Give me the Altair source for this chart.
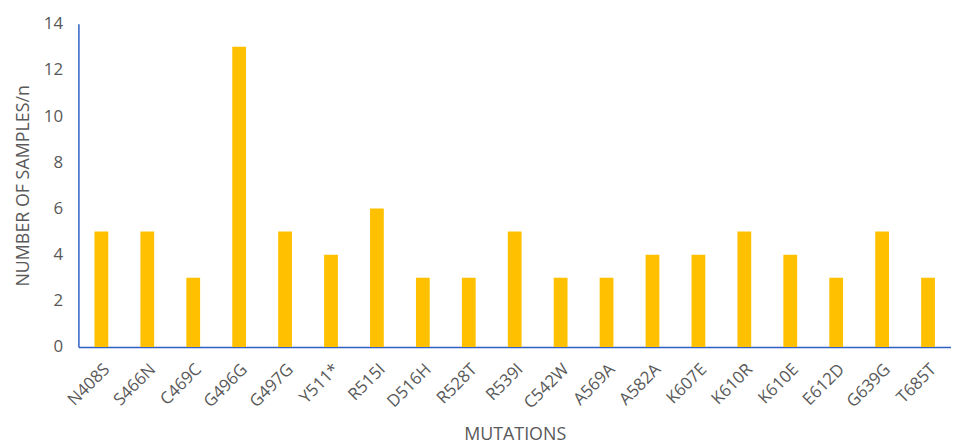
import altair as alt
import pandas as pd

mutations = ["N408S", "S466N", "C469C", "G496G", "G497G", "Y511*", "R515I", "D516H",
             "R528T", "R539I", "C542W", "A569A", "A582A", "K607E", "K610R", "K610E",
             "E612D", "G639G", "T685T"]
samples = [5, 5, 3, 13, 5, 4, 6, 3, 3, 5, 3, 3, 4, 4, 5, 4, 3, 5, 3]

df = pd.DataFrame({"mutation": mutations, "n": samples})

FONT = "Open Sans"
GREY = "#595959"
BLUE = "#2F5FC4"

chart = alt.Chart(df).mark_bar(color="#FFC000", width=alt.RelativeBandSize(0.3)).encode(
    x=alt.X("mutation:N", sort=mutations, title="MUTATIONS",
            scale=alt.Scale(paddingInner=0, paddingOuter=0),
            axis=alt.Axis(labelAngle=-45, labelFontSize=17, labelColor=GREY, labelFont=FONT,
                          labelPadding=14, ticks=False, domainColor=BLUE, domainWidth=1.5,
                          titleFont=FONT, titleFontSize=18, titleFontWeight="normal",
                          titleColor=GREY, titlePadding=15)),
    y=alt.Y("n:Q", title="NUMBER OF SAMPLES/n",
            scale=alt.Scale(domain=[0, 14], nice=False),
            axis=alt.Axis(values=list(range(0, 15, 2)), grid=False, ticks=False,
                          labelFontSize=17, labelColor=GREY, labelFont=FONT, labelPadding=16,
                          domainColor=BLUE, domainWidth=1.5,
                          titleFont=FONT, titleFontSize=18, titleFontWeight="normal",
                          titleColor=GREY, titlePadding=11)),
).properties(
    width=880, height=326,
    autosize=alt.AutoSizeParams(type="none"),
    padding={"left": 71, "top": 14, "right": 0, "bottom": 99},
).configure_view(stroke=None)

chart.save("out.html", embed_options={"renderer": "svg", "actions": False})
